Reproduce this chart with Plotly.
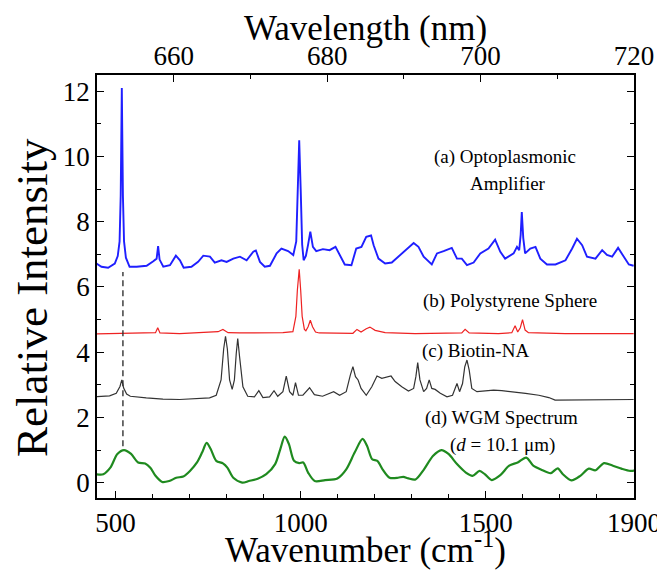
import plotly.graph_objects as go

# ---------------- data ----------------
blue_wn = [448, 462, 480, 498, 506, 511, 514, 517, 520, 523, 528, 538, 557, 584, 602, 611, 615, 619, 629, 647,
           663, 674, 684, 705, 723, 737, 755, 768, 786, 800, 818, 836, 854, 872, 879, 890, 903, 917, 935, 948,
           966, 980, 988, 992, 996, 1000, 1004, 1008, 1014, 1020, 1026, 1033, 1042, 1060, 1078, 1094, 1105, 1119,
           1137, 1150, 1164, 1177, 1190, 1197, 1210, 1228, 1246, 1264, 1287, 1305, 1318, 1332, 1354, 1368, 1386,
           1408, 1422, 1435, 1449, 1467, 1485, 1507, 1525, 1539, 1552, 1575, 1584, 1590, 1594, 1597, 1601, 1606,
           1620, 1634, 1647, 1665, 1688, 1715, 1733, 1746, 1760, 1773, 1796, 1814, 1827, 1841, 1857, 1872, 1886, 1899]
blue_val = [6.72, 6.62, 6.59, 6.72, 6.95, 7.4, 8.8, 12.1, 8.8, 7.4, 6.9, 6.62, 6.62, 6.65, 6.79, 6.87, 7.25, 6.84, 6.62, 6.67,
            6.96, 6.82, 6.59, 6.62, 6.77, 6.96, 6.93, 6.75, 6.82, 6.77, 6.87, 6.93, 6.82, 7.08, 7.12, 6.77, 6.62, 6.65, 7.03, 7.18,
            7.10, 6.98, 7.4, 9.0, 10.5, 9.0, 7.3, 6.82, 6.95, 7.3, 7.7, 7.23, 7.10, 7.16, 7.13, 7.23, 6.98, 6.69,
            6.67, 7.18, 7.23, 7.54, 7.58, 7.28, 6.87, 6.72, 6.75, 6.93, 7.18, 7.35, 7.23, 6.93, 6.69, 7.03, 7.10,
            7.20, 6.87, 6.87, 6.67, 6.75, 7.03, 7.18, 7.45, 7.08, 6.87, 7.03, 7.23, 7.13, 7.6, 8.3, 7.5, 7.03,
            7.18, 7.23, 6.87, 6.69, 6.69, 6.82, 7.18, 7.48, 7.28, 6.93, 6.87, 7.13, 6.98, 6.93, 7.20, 6.93, 6.69, 6.65]

red_wn = [448, 538, 600, 608, 614, 620, 673, 745, 777, 790, 804, 835, 898, 952, 979, 987, 991, 996, 1000, 1004,
          1010, 1014, 1020, 1026, 1032, 1040, 1050, 1096, 1141, 1152, 1163, 1177, 1187, 1201, 1228, 1309, 1399,
          1435, 1444, 1455, 1534, 1570, 1579, 1586, 1593, 1599, 1606, 1615, 1714, 1804, 1899]
red_val = [4.56, 4.58, 4.58, 4.6, 4.75, 4.59, 4.57, 4.60, 4.63, 4.70, 4.60, 4.59, 4.59, 4.60, 4.63, 5.1, 5.9, 6.54, 5.9, 5.1,
           4.7, 4.66, 4.78, 4.98, 4.78, 4.62, 4.59, 4.58, 4.58, 4.70, 4.62, 4.72, 4.77, 4.67, 4.60, 4.57, 4.57,
           4.59, 4.70, 4.59, 4.57, 4.60, 4.81, 4.62, 4.75, 5.0, 4.68, 4.60, 4.57, 4.58, 4.57]

black_wn = [448, 484, 502, 512, 517, 522, 530, 540, 583, 628, 673, 718, 754, 772, 785, 792, 797, 802, 808, 815,
            821, 826, 830, 835, 844, 857, 875, 887, 898, 916, 928, 938, 952, 961, 970, 979, 986, 994, 1006, 1024,
            1037, 1059, 1089, 1105, 1123, 1134, 1141, 1148, 1155, 1163, 1177, 1192, 1206, 1219, 1233, 1244, 1255,
            1273, 1291, 1305, 1311, 1316, 1322, 1332, 1340, 1347, 1354, 1363, 1377, 1395, 1410, 1422, 1429, 1437,
            1443, 1449, 1455, 1462, 1476, 1498, 1521, 1543, 1571, 1607, 1643, 1670, 1687, 1733, 1805, 1850, 1899]
black_val = [2.64, 2.66, 2.74, 2.95, 3.15, 2.90, 2.72, 2.65, 2.60, 2.56, 2.55, 2.57, 2.60, 2.68, 3.15, 4.10, 4.49, 4.10, 3.15, 2.86,
             3.15, 3.96, 4.42, 3.86, 2.94, 2.65, 2.63, 2.82, 2.61, 2.63, 2.82, 2.65, 2.79, 3.27, 2.79, 2.68, 3.07, 2.68, 2.68, 2.91,
             2.70, 2.65, 2.79, 2.68, 2.79, 3.30, 3.56, 3.25, 3.15, 2.89, 2.68, 2.94, 3.27, 3.20, 3.23, 3.27, 3.10,
             2.94, 2.81, 2.89, 3.25, 3.68, 3.15, 2.79, 2.89, 3.15, 2.89, 2.86, 2.74, 2.63, 2.68, 3.04, 2.79, 3.04,
             3.55, 3.76, 3.45, 2.89, 2.79, 2.82, 2.84, 2.82, 2.79, 2.74, 2.68, 2.61, 2.53, 2.53, 2.55, 2.53, 2.55]

green_wn = [448, 467, 486, 505, 523, 542, 561, 580, 594, 608, 626, 645, 664, 683, 701, 720, 734, 746, 757, 772,
            790, 802, 818, 842, 860, 884, 907, 931, 945, 957, 968, 982, 996, 1007, 1020, 1038, 1066, 1099, 1123,
            1146, 1167, 1179, 1193, 1207, 1221, 1240, 1263, 1277, 1291, 1310, 1333, 1357, 1380, 1399, 1422, 1446,
            1464, 1483, 1497, 1516, 1539, 1563, 1586, 1609, 1628, 1651, 1675, 1694, 1708, 1731, 1755, 1778, 1796,
            1819, 1843, 1866, 1890, 1908]
green_val = [0.26, 0.26, 0.46, 0.88, 1.0, 0.88, 0.62, 0.59, 0.46, 0.21, 0.02, 0.05, 0.15, 0.19, 0.36, 0.62, 0.93, 1.22, 1.03, 0.67,
             0.59, 0.46, 0.15, 0.0, 0.05, 0.12, 0.26, 0.57, 1.03, 1.41, 1.19, 0.67, 0.60, 0.62, 0.31, 0.05, 0.08, 0.13, 0.41,
             0.93, 1.34, 1.13, 0.72, 0.67, 0.41, 0.15, 0.15, 0.18, 0.13, 0.10, 0.41, 0.82, 1.0, 0.88, 0.57, 0.31,
             0.21, 0.36, 0.26, 0.08, 0.23, 0.52, 0.62, 0.77, 0.52, 0.39, 0.29, 0.44, 0.26, 0.07, 0.21, 0.43, 0.38,
             0.60, 0.52, 0.43, 0.36, 0.38]

guide_wn = [520, 520]
guide_val = [1.12, 6.46]

x_range = [450, 1900]
y_range = [-0.47, 12.5]
top_range = [650, 720]
x_ticks = [500, 1000, 1500, 1900]
top_ticks = [660, 680, 700, 720]
y_ticks = [0, 2, 4, 6, 8, 10, 12]

labels = [
    ("(a) Optoplasmonic", 1552, 9.98),
    ("Amplifier", 1560, 9.18),
    ("(b) Polystyrene Sphere", 1565, 5.57),
    ("(c) Biotin-NA", 1471, 4.04),
    ("(d) WGM Spectrum", 1541, 1.98),
    ("(<i>d</i> = 10.1 μm)", 1546, 1.16),
]

SERIF = "Liberation Serif"

fig = go.Figure()
fig.add_trace(go.Scatter(x=blue_wn, y=blue_val, mode="lines", line=dict(color="#1f1fff", width=1.9), showlegend=False))
fig.add_trace(go.Scatter(x=red_wn, y=red_val, mode="lines", line=dict(color="#ee2222", width=1.2), showlegend=False))
fig.add_trace(go.Scatter(x=black_wn, y=black_val, mode="lines", line=dict(color="#333333", width=1.2), showlegend=False))
fig.add_trace(go.Scatter(x=green_wn, y=green_val, mode="lines", line=dict(color="#1f8a1f", width=2.2, shape="spline", smoothing=0.8), showlegend=False))
fig.add_trace(go.Scatter(x=guide_wn, y=guide_val, mode="lines", line=dict(color="#333333", width=1.4, dash="6px,4px"), showlegend=False))
# invisible trace that carries the top (wavelength) axis
fig.add_trace(go.Scatter(x=top_range, y=[None, None], xaxis="x2", yaxis="y", mode="lines", showlegend=False, hoverinfo="skip"))

for text, x, y in labels:
    fig.add_annotation(x=x, y=y, xref="x", yref="y", text=text, showarrow=False,
                       font=dict(family=SERIF, size=19, color="black"), xanchor="center", yanchor="middle")

fig.add_annotation(x=0.5, y=-0.118, xref="paper", yref="paper", text="Wavenumber (cm<sup>-1</sup>)", showarrow=False,
                   font=dict(family=SERIF, size=35, color="black"), xanchor="center", yanchor="middle")
fig.add_annotation(x=0.5, y=1.11, xref="paper", yref="paper", text="Wavelength (nm)", showarrow=False,
                   font=dict(family=SERIF, size=35, color="black"), xanchor="center", yanchor="middle")
fig.add_annotation(x=-0.12, y=0.474, xref="paper", yref="paper", text="Relative Intensity", showarrow=False, textangle=-90,
                   font=dict(family=SERIF, size=45, color="black"), xanchor="center", yanchor="middle")

axis_common = dict(showline=True, linecolor="black", linewidth=1.6, ticks="inside", tickcolor="black",
                   tickwidth=1.4, ticklen=7, showgrid=False, zeroline=False, automargin=False,
                   tickfont=dict(family=SERIF, size=27, color="black"))

# the page body has an 8px margin, so the figure is 8px smaller and its margins shifted accordingly
fig.update_layout(
    width=657, height=571,
    margin=dict(l=89, r=31, t=67, b=81, autoexpand=False),
    plot_bgcolor="white", paper_bgcolor="white",
    xaxis=dict(range=x_range, tickvals=x_ticks, mirror=False,
               minor=dict(dtick=100, tick0=500, ticks="inside", ticklen=4, tickcolor="black", tickwidth=1.2),
               **axis_common),
    xaxis2=dict(range=top_range, tickvals=top_ticks, overlaying="x", side="top", anchor="y",
                ticklabelstandoff=-3,
                minor=dict(dtick=10, tick0=650, ticks="inside", ticklen=4, tickcolor="black", tickwidth=1.2),
                **axis_common),
    yaxis=dict(range=y_range, tickvals=y_ticks, mirror="ticks",
               minor=dict(dtick=1, tick0=0, ticks="inside", ticklen=4, tickcolor="black", tickwidth=1.2),
               **axis_common),
)

fig.write_html("out.html")
